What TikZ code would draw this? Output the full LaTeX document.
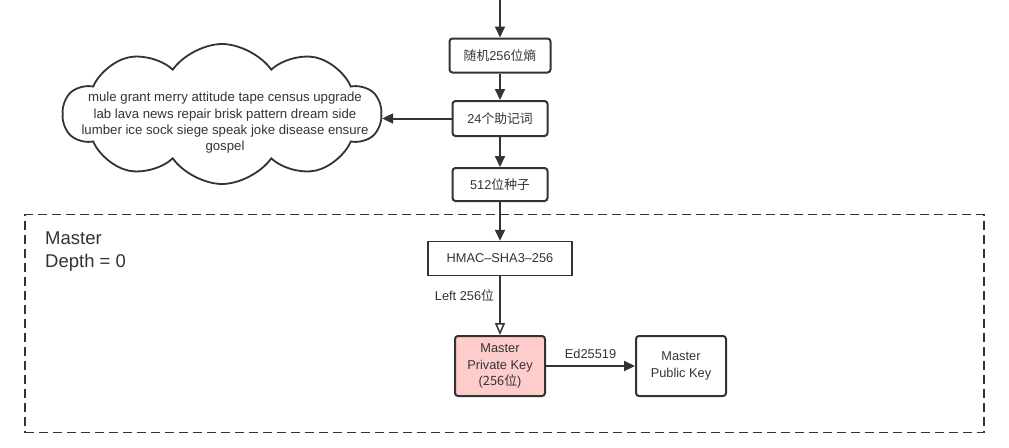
\documentclass[tikz,border=0pt]{standalone}
\usepackage{fontspec}
\setmainfont{Liberation Sans}
\newfontfamily\cjk{Noto Sans CJK SC}
\usetikzlibrary{shapes.symbols, arrows.meta, positioning}
\definecolor{inkgray}{RGB}{51,51,51}
\definecolor{keypink}{RGB}{255,204,204}

\begin{document}
\begin{tikzpicture}[x=1pt, y=-1pt,
  stepbox/.style={draw=inkgray, line width=2pt, rounded corners=3pt, text=inkgray,
    font=\fontsize{12.8}{16.5}\selectfont, align=center, inner sep=0pt},
  flow/.style={draw=inkgray, line width=2pt, -{Triangle[length=11pt, width=10pt]}},
  note/.style={text=inkgray, font=\fontsize{12.8}{15}\selectfont, inner sep=0pt}
]
  \useasboundingbox (0,0) rectangle (1009,447);

  % outer frame for depth 0
  \node[draw=inkgray, line width=1.5pt, dash pattern=on 9pt off 5pt,
        minimum width=959pt, minimum height=218pt, inner sep=0pt] (masterframe) at (504.5,323.5) {};
  \node[anchor=north west, text=inkgray, align=left, inner sep=0pt,
        font=\fontsize{18.5}{22.5}\selectfont] (depthlabel) at (45,232) {Master\\Depth = 0};

  % entropy to seed
  \coordinate (entry) at (500,0);
  \node[stepbox, minimum width=101pt, minimum height=34pt] (entropy) at (500,55.5) {{\cjk 随机}256{\cjk 位熵}};
  \node[stepbox, minimum width=95pt, minimum height=35pt] (mnemonic) at (500,118.5) {24{\cjk 个助记词}};
  \node[stepbox, minimum width=95pt, minimum height=33pt] (seed) at (500,184.5) {512{\cjk 位种子}};

  % word list
  \node[cloud, cloud puffs=10, cloud puff arc=110, draw=inkgray, line width=1.8pt,
        minimum width=318pt, minimum height=140pt, inner sep=0pt] (wordcloud) at (222,114) {};
  \node[text=inkgray, align=center, inner sep=0pt, font=\fontsize{13.2}{16.3}\selectfont]
        (wordlist) at (225,123) {mule grant merry attitude tape census upgrade\\
        lab lava news repair brisk pattern dream side\\
        lumber ice sock siege speak joke disease ensure\\
        gospel};

  % master keys
  \node[draw=inkgray, line width=1.5pt, text=inkgray, inner sep=0pt,
        font=\fontsize{12.8}{15}\selectfont, minimum width=144pt, minimum height=34pt] (hmac) at (500,258.5) {HMAC--SHA3--256};
  \node[stepbox, fill=keypink, minimum width=90pt, minimum height=60pt] (privkey) at (500,366) {Master\\Private Key\\({\cjk 256位})};
  \node[stepbox, fill=white, minimum width=90pt, minimum height=60pt] (pubkey) at (681,366) {Master\\Public Key};

  \draw[flow] (entry) -- (entropy);
  \draw[flow] (entropy) -- (mnemonic);
  \draw[flow] (mnemonic) -- (seed);
  \draw[flow] (mnemonic.west) -- (mnemonic.west -| wordcloud.east);
  \draw[flow] (seed) -- (hmac);
  \draw[draw=inkgray, line width=2pt, -{Triangle[open, length=12pt, width=10pt, line width=1.5pt]}]
    (hmac) -- node[note, left=5pt, pos=0.33] (leftbits) {Left 256{\cjk 位}} (privkey);
  \draw[flow] (privkey) -- node[note, above=6pt] (curve) {Ed25519} (pubkey);
\end{tikzpicture}
\end{document}
